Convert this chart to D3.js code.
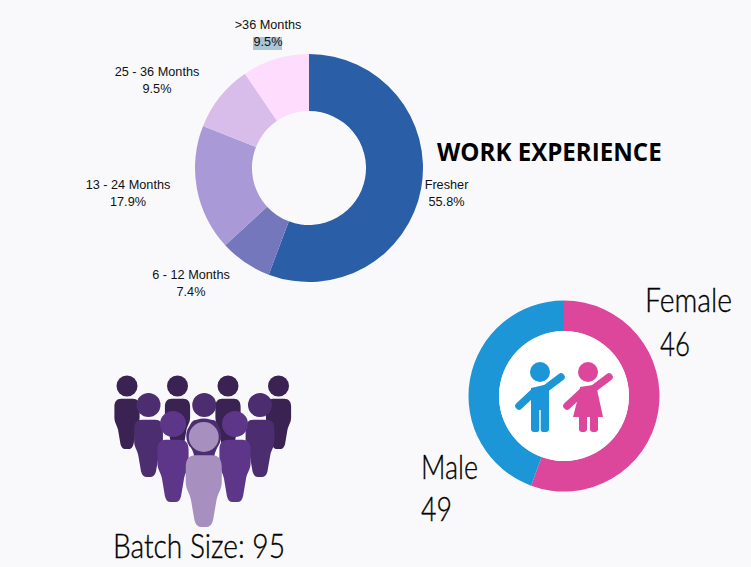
<!DOCTYPE html>
<html><head><meta charset="utf-8">
<script src="https://cdnjs.cloudflare.com/ajax/libs/d3/7.8.5/d3.min.js"></script>
<style>
html,body{margin:0;padding:0;background:#f9f9fb;overflow:hidden}
svg{display:block}
.lab{font-family:"Liberation Sans",Arial,sans-serif;font-size:12.7px;fill:#111;text-anchor:middle}
.big{font-family:Lato,sans-serif;font-weight:300;font-size:33px;fill:#000;stroke:#000;stroke-width:0.35px}
</style></head><body>
<script>
// Work experience
const expCategories = ["Fresher","6 - 12 Months","13 - 24 Months","25 - 36 Months",">36 Months"];
const expValues = [55.8,7.4,17.9,9.5,9.5];
const expColors = ["#2a5fa7","#7577bd","#a999d6","#d8bcea","#fddcfd"];
// Gender ring (arc shares as drawn, labels as printed)
const genderCategories = ["Female","Male"];
const genderCounts = [46,49];
const genderArcShares = [55.6,44.4];
const genderColors = ["#dd479b","#1c96d6"];
const batchSize = 95;
// People icon: row depth, slot across the group
const peopleRows = [0,0,0,0,1,1,1,2,2,3];
const peopleSlots = [-1.5,-0.5,0.5,1.5,-1,0,1,-0.6,0.6,0];
const rowColors = ["#3a2252","#4b2d70","#5d3689","#a78fbf"];

const W=751,H=567;
const svg=d3.select("body").append("svg").attr("width",W).attr("height",H);

// ---- work experience donut
const g1=svg.append("g").attr("transform","translate(309,168)");
const pie=d3.pie().sort(null);
const arc1=d3.arc().innerRadius(57).outerRadius(114);
g1.selectAll("path").data(pie(expValues)).join("path").attr("d",arc1).attr("fill",(d,i)=>expColors[i]);

const labelPos=[[446.5,184.5],[191,274.5],[128,184.5],[157,71.5],[268,24.5]];
expCategories.forEach((c,i)=>{
  const [x,y]=labelPos[i];
  const val=expValues[i].toFixed(1)+"%";
  if(i===4){
    svg.append("rect").attr("x",x-15).attr("y",y+12.5).attr("width",29).attr("height",13).attr("fill","#a9c6d9");
  }
  svg.append("text").attr("class","lab").attr("x",x).attr("y",y+4.5).text(c);
  svg.append("text").attr("class","lab").attr("x",x).attr("y",y+21).text(val);
});
svg.append("text").attr("x",437).attr("y",160.5)
  .style("font-family",'"Open Sans",sans-serif').style("font-weight",700).style("font-size","24.1px").attr("fill","#000")
  .text("WORK EXPERIENCE");

// ---- gender ring
const g2=svg.append("g").attr("transform","translate(564,396)");
const arc2=d3.arc().innerRadius(65).outerRadius(95.5);
g2.selectAll("path").data(pie(genderArcShares)).join("path").attr("d",arc2).attr("fill",(d,i)=>genderColors[i]);
g2.append("circle").attr("r",65).attr("fill","#fff");

function child(x,color,girl){
  const c=g2.append("g").attr("transform",`translate(${x},0)`).attr("fill",color).attr("stroke","none");
  c.append("circle").attr("cx",0).attr("cy",-24).attr("r",10);
  const arm=d3.path();arm.moveTo(-21,10);arm.lineTo(-6,-4);arm.lineTo(5,-7);arm.lineTo(21,-19);
  c.append("path").attr("d",arm).attr("fill","none").attr("stroke",color).attr("stroke-width",7.5).attr("stroke-linecap","round").attr("stroke-linejoin","round");
  if(!girl){
    const b=d3.path();b.moveTo(-9,-8);b.lineTo(4,-11);b.quadraticCurveTo(9,-10,9,-5);b.lineTo(9,33);b.quadraticCurveTo(9,36,6,36);b.lineTo(3,36);b.quadraticCurveTo(0.7,36,0.7,33);b.lineTo(0.7,14);b.lineTo(-0.7,14);b.lineTo(-0.7,33);b.quadraticCurveTo(-0.7,36,-3,36);b.lineTo(-6,36);b.quadraticCurveTo(-9,36,-9,33);b.closePath();
    c.append("path").attr("d",b);
  } else {
    const b=d3.path();b.moveTo(-8,-9);b.lineTo(5,-11);b.quadraticCurveTo(9,-9,10,-2);b.lineTo(15,21);b.lineTo(-15,21);b.lineTo(-9,-2);b.closePath();
    c.append("path").attr("d",b);
    c.append("path").attr("d","M-9,20H-1V33Q-1,36,-4,36H-6Q-9,36,-9,33Z M2,20H10V33Q10,36,7,36H5Q2,36,2,33Z");
  }
}
child(-24,genderColors[1],false);
child(24,genderColors[0],true);

const bigText=(x,y,s,w)=>svg.append("text").attr("class","big").attr("x",x).attr("y",y).attr("textLength",w).attr("lengthAdjust","spacingAndGlyphs").text(s);
bigText(645,312,genderCategories[0],87);
bigText(660,356,genderCounts[0],30);
bigText(421,479,genderCategories[1],57);
bigText(421,521,genderCounts[1],31);
bigText(113,558,"Batch Size: "+batchSize,172);

// ---- people icon
const rowY=d3.scaleOrdinal().domain([0,1,2,3]).range([386,405,424,437]);
const rowR=d3.scaleOrdinal().domain([0,1,2,3]).range([10.5,12,13,15]);
const slotX=d3.scaleLinear().domain([-1.5,1.5]).range([127,278.5]);
const slotX1=d3.scaleLinear().domain([-1,1]).range([148.5,260]);
const slotX2=d3.scaleLinear().domain([-0.6,0.6]).range([173,235]);
const personPath=(()=>{const p=d3.path();
  p.moveTo(-0.55,1.22);p.lineTo(0.55,1.22);
  p.bezierCurveTo(1.0,1.22,1.2,1.5,1.2,2.0);p.lineTo(1.2,3.0);
  p.bezierCurveTo(1.2,3.5,0.95,3.7,0.85,4.2);p.lineTo(0.62,5.55);
  p.quadraticCurveTo(0.5,6.0,0.2,6.0);p.lineTo(-0.2,6.0);
  p.quadraticCurveTo(-0.5,6.0,-0.62,5.55);p.lineTo(-0.85,4.2);
  p.bezierCurveTo(-0.95,3.7,-1.2,3.5,-1.2,3.0);p.lineTo(-1.2,2.0);
  p.bezierCurveTo(-1.2,1.5,-1.0,1.22,-0.55,1.22);p.closePath();return p.toString();})();
const pg=svg.append("g");
peopleRows.forEach((row,i)=>{
  const s=peopleSlots[i];
  const x=row===0?slotX(s):row===1?slotX1(s):row===2?slotX2(s):slotX1(s)+(-0.5);
  const r=rowR(row),y=rowY(row),col=rowColors[row];
  if(row===3) pg.append("circle").attr("cx",x).attr("cy",y-1).attr("r",r+2.5).attr("fill",rowColors[1]);
  const gp=pg.append("g").attr("transform",`translate(${x},${y}) scale(${r})`).attr("fill",col);
  gp.append("circle").attr("r",1);
  gp.append("path").attr("d",personPath);
});
</script>
</body></html>
